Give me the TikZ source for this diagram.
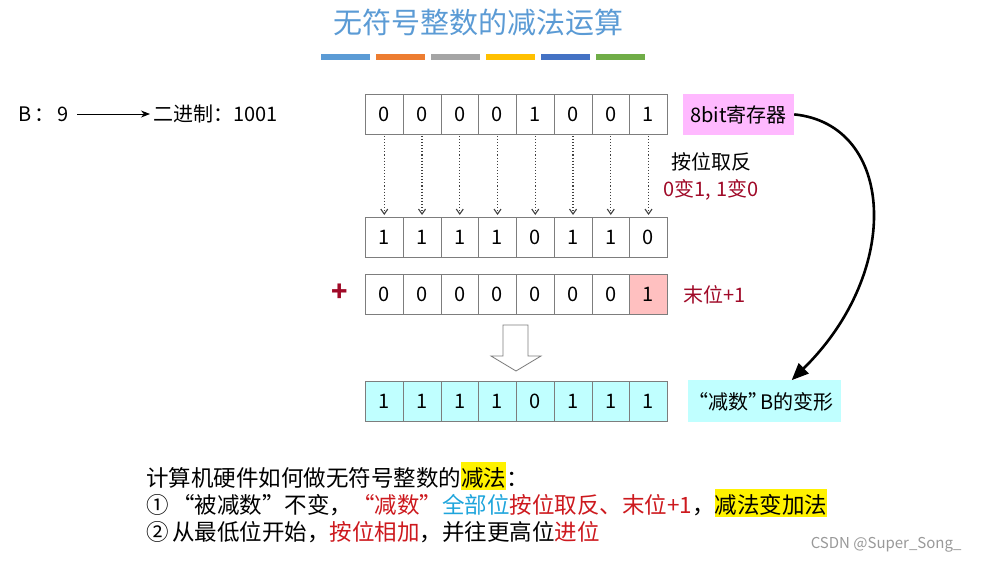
\documentclass[tikz,border=0pt]{standalone}
\usepackage{fontspec}
\setmainfont{Noto Sans CJK SC}
\usetikzlibrary{positioning,arrows.meta}
\definecolor{titleblue}{RGB}{91,155,213}
\definecolor{darkred}{RGB}{160,10,40}
\definecolor{brightred}{RGB}{205,25,30}
\definecolor{cyantext}{RGB}{30,165,220}
\definecolor{regpink}{RGB}{255,185,255}
\definecolor{negcyan}{RGB}{192,255,255}
\definecolor{onepink}{RGB}{255,192,192}
\definecolor{cellgray}{RGB}{125,125,125}
\definecolor{barblue}{RGB}{91,155,213}
\definecolor{barorange}{RGB}{237,125,49}
\definecolor{bargray}{RGB}{165,165,165}
\definecolor{baryellow}{RGB}{255,192,0}
\definecolor{bardarkblue}{RGB}{68,114,196}
\definecolor{bargreen}{RGB}{112,173,71}
\newcommand{\hlite}[1]{{\setlength{\fboxsep}{0pt}\colorbox{yellow}{\rule[-4pt]{0pt}{28pt}#1}}}

\begin{document}
\begin{tikzpicture}[x=1pt,y=-1pt,
  bitcell/.style={draw=cellgray,line width=0.8pt,minimum width=37.75pt,minimum height=40pt,inner sep=0pt,anchor=north west,font=\fontsize{20}{20}\selectfont},
  lbl/.style={inner sep=2pt,font=\fontsize{20}{24}\selectfont},
  note/.style={inner sep=0pt,anchor=base west,font=\fontsize{22.5}{27}\selectfont}]
\useasboundingbox (0,0) rectangle (983,563);
\fill[white] (0,0) rectangle (983,563);

\node[titleblue,font=\fontsize{29}{29}\selectfont] (title) at (478.5,22) {无符号整数的减法运算};
\foreach \c [count=\i from 0] in {barblue,barorange,bargray,baryellow,bardarkblue,bargreen}
  \fill[\c] (321+55*\i,54) rectangle ++(49,6);

\node[lbl,anchor=west] (b9) at (16,114) {B\,：\,9};
\node[lbl,anchor=west] (bin) at (151,114) {二进制：1001};
\draw[line width=0.9pt,-{Stealth[length=9pt,width=7pt]},shorten <=6pt,shorten >=1pt] (b9) -- (bin);

\foreach \b [count=\i from 0] in {0,0,0,0,1,0,0,1}
  \node[bitcell] (a\i) at (365+37.75*\i,94) {\b};
\foreach \b [count=\i from 0] in {1,1,1,1,0,1,1,0}
  \node[bitcell] (b\i) at (365+37.75*\i,217) {\b};
\foreach \b/\c [count=\i from 0] in {0/white,0/white,0/white,0/white,0/white,0/white,0/white,1/onepink}
  \node[bitcell,fill=\c] (c\i) at (365+37.75*\i,274) {\b};
\foreach \b [count=\i from 0] in {1,1,1,1,0,1,1,1}
  \node[bitcell,fill=negcyan] (d\i) at (365+37.75*\i,381) {\b};

\foreach \i in {0,...,7}
  \draw[black!75,dotted,line width=1.1pt,-{Straight Barb[length=5pt,width=7pt]},shorten <=1pt,shorten >=2pt] (a\i.south) -- (b\i.north);

\node[lbl,fill=regpink,minimum width=111pt,minimum height=41pt,right=15pt of a7] (reg) {8bit寄存器};
\node[lbl] (flip) at (711,162) {按位取反};
\node[lbl,darkred] (flipnote) at (711,190) {0变1, 1变0};

\node[darkred,font=\fontsize{27}{27}\selectfont\bfseries] (plus) at (340,293) {+};
\node[lbl,darkred,right=13pt of c7] (lastone) {末位+1};

\draw[cellgray,fill=white,line width=0.8pt] (503,325) -- (528,325) -- (528,356) -- (541,356) -- (516,371) -- (491,356) -- (503,356) -- cycle;

\node[lbl,fill=negcyan,minimum width=153pt,minimum height=42pt,right=20pt of d7] (negB) {\kern-7pt“减数”\kern-8pt B的变形};
\draw[line width=2.6pt,-{Triangle[length=17pt,width=14pt]}] (reg.east) .. controls +(100,10) and +(112,-110) .. (negB.38);

\node[note] (line1) at (146,486) {计算机硬件如何做无符号整数的\hlite{减法}：};
\node[note] (line2) at (146,513) {①\,“被减数”不变，\textcolor{brightred}{“减数”}\textcolor{cyantext}{全部位}\textcolor{brightred}{按位取反、末位+1}，\hlite{减法变加法}};
\node[note] (line3) at (146,540) {②\,从最低位开始，\textcolor{brightred}{按位相加}，并往更高位\textcolor{brightred}{进位}};

\node[gray!80,font=\fontsize{15}{15}\selectfont,anchor=east] (mark) at (965,545) {CSDN @Super\_Song\_};
\end{tikzpicture}
\end{document}
